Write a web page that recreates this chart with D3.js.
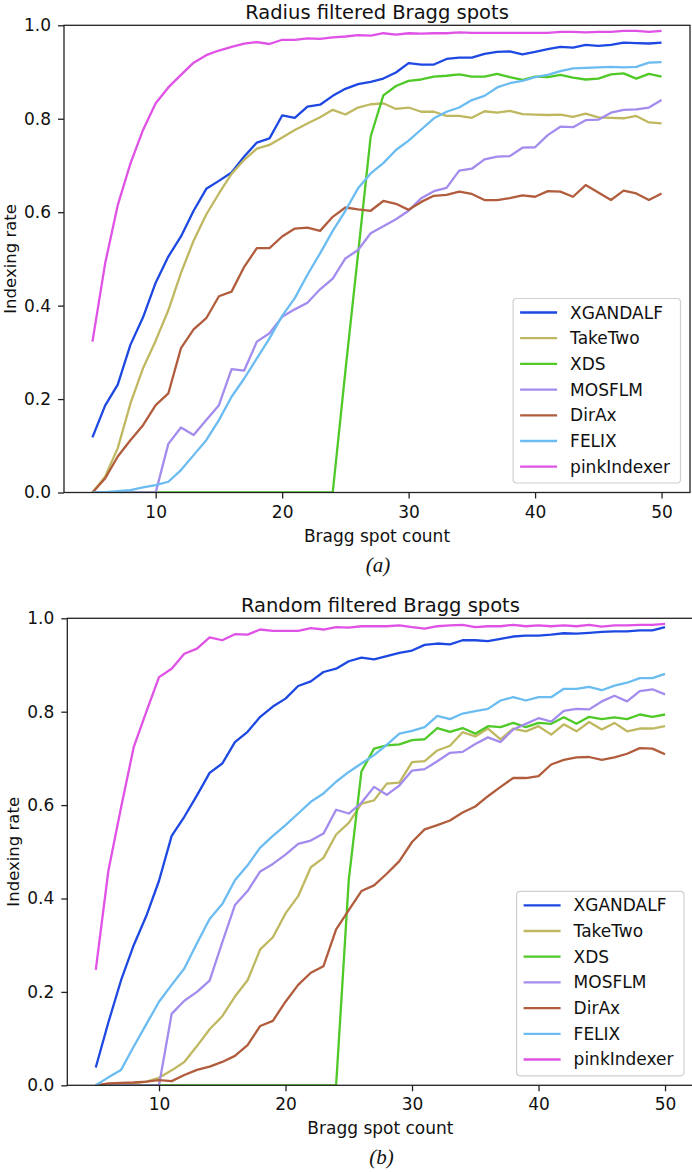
<!DOCTYPE html>
<html>
<head>
<meta charset="utf-8">
<script src="https://cdn.jsdelivr.net/npm/d3@7"></script>
<style>
body { margin: 0; background: #fff; }
svg text { font-family: "DejaVu Sans", sans-serif; fill: #111; }
.domain, .tick line { stroke: #222; }
</style>
</head>
<body>
<svg id="fig" width="692" height="1172"></svg>
<script>
// spot counts (x categories)
var spotCounts = [5,6,7,8,9,10,11,12,13,14,15,16,17,18,19,20,21,22,23,24,25,26,27,28,29,30,31,32,33,34,35,36,37,38,39,40,41,42,43,44,45,46,47,48,49,50];
var xTicks = [10, 20, 30, 40, 50];
var yTicks = [0.0, 0.2, 0.4, 0.6, 0.8, 1.0];
var names = ["XGANDALF", "TakeTwo", "XDS", "MOSFLM", "DirAx", "FELIX", "pinkIndexer"];
var colors = ["#1d48e2", "#bfb860", "#4fc927", "#a38ced", "#b15d3d", "#6bbcf1", "#e052e6"];

// (a) radius filtered
var xgandalfA = [0.118,0.186,0.231,0.316,0.375,0.449,0.505,0.548,0.603,0.650,0.667,0.685,0.719,0.749,0.758,0.807,0.802,0.826,0.830,0.849,0.864,0.874,0.879,0.886,0.899,0.919,0.916,0.916,0.928,0.931,0.931,0.939,0.943,0.944,0.938,0.943,0.949,0.954,0.952,0.958,0.956,0.958,0.963,0.962,0.961,0.963];
var takeTwoA = [0,0.034,0.095,0.19,0.266,0.325,0.39,0.47,0.539,0.595,0.64,0.682,0.712,0.736,0.744,0.76,0.776,0.79,0.803,0.819,0.809,0.824,0.831,0.833,0.821,0.824,0.815,0.815,0.806,0.806,0.802,0.816,0.813,0.817,0.810,0.809,0.808,0.809,0.804,0.811,0.803,0.802,0.801,0.806,0.792,0.790];
var xdsA = [0,0,0,0,0,0,0,0,0,0,0,0,0,0,0,0,0,0,0,0,0.26,0.51,0.762,0.85,0.870,0.881,0.884,0.890,0.892,0.895,0.890,0.890,0.896,0.889,0.883,0.890,0.889,0.894,0.888,0.884,0.886,0.895,0.897,0.886,0.896,0.890];
var mosflmA = [0,0,0,0,0,0,0.104,0.139,0.123,0.155,0.187,0.264,0.261,0.323,0.341,0.376,0.392,0.406,0.435,0.458,0.501,0.519,0.555,0.570,0.585,0.603,0.630,0.645,0.652,0.689,0.693,0.713,0.719,0.720,0.738,0.739,0.765,0.783,0.782,0.797,0.798,0.813,0.819,0.820,0.824,0.840];
var dirAxA = [0,0.03,0.077,0.112,0.144,0.187,0.212,0.309,0.349,0.373,0.42,0.43,0.483,0.523,0.523,0.548,0.565,0.567,0.560,0.590,0.610,0.606,0.603,0.624,0.618,0.605,0.622,0.635,0.637,0.644,0.639,0.626,0.626,0.630,0.636,0.633,0.645,0.644,0.633,0.658,0.642,0.626,0.646,0.640,0.626,0.640];
var felixA = [0,0.001,0.003,0.005,0.011,0.016,0.023,0.048,0.08,0.112,0.155,0.205,0.244,0.287,0.33,0.378,0.416,0.466,0.512,0.560,0.603,0.651,0.683,0.705,0.733,0.753,0.777,0.801,0.815,0.824,0.840,0.849,0.867,0.876,0.881,0.889,0.894,0.902,0.908,0.909,0.910,0.911,0.910,0.911,0.920,0.921];
var pinkA = [0.323,0.49,0.615,0.704,0.776,0.833,0.867,0.894,0.92,0.936,0.946,0.954,0.961,0.964,0.960,0.969,0.969,0.972,0.971,0.974,0.976,0.979,0.978,0.983,0.980,0.983,0.982,0.983,0.983,0.985,0.984,0.984,0.984,0.984,0.984,0.984,0.984,0.986,0.986,0.985,0.986,0.986,0.988,0.988,0.986,0.988];

// (b) random filtered
var xgandalfB = [0.038,0.135,0.225,0.30,0.363,0.438,0.534,0.575,0.621,0.669,0.689,0.735,0.757,0.789,0.811,0.828,0.855,0.865,0.885,0.892,0.908,0.916,0.912,0.919,0.926,0.931,0.943,0.946,0.944,0.953,0.953,0.951,0.956,0.961,0.963,0.963,0.965,0.968,0.967,0.969,0.971,0.972,0.972,0.974,0.974,0.981];
var takeTwoB = [0,0.002,0.003,0.004,0.008,0.016,0.032,0.05,0.084,0.12,0.148,0.19,0.225,0.291,0.317,0.368,0.405,0.467,0.487,0.537,0.562,0.603,0.610,0.646,0.648,0.692,0.694,0.717,0.727,0.756,0.747,0.764,0.741,0.764,0.758,0.769,0.751,0.773,0.758,0.778,0.762,0.776,0.758,0.764,0.764,0.769];
var xdsB = [0,0,0,0,0,0,0,0,0,0,0,0,0,0,0,0,0,0,0,0,0.44,0.672,0.721,0.728,0.730,0.739,0.741,0.765,0.757,0.765,0.753,0.769,0.767,0.776,0.767,0.776,0.774,0.788,0.774,0.789,0.784,0.788,0.784,0.794,0.789,0.794];
var mosflmB = [0,0,0,0,0,0,0.153,0.181,0.2,0.224,0.306,0.386,0.416,0.458,0.474,0.494,0.517,0.524,0.539,0.590,0.582,0.605,0.639,0.622,0.642,0.674,0.677,0.694,0.712,0.714,0.731,0.745,0.735,0.762,0.774,0.786,0.779,0.802,0.806,0.805,0.822,0.834,0.822,0.844,0.848,0.837];
var dirAxB = [0,0.004,0.005,0.006,0.008,0.011,0.009,0.022,0.033,0.04,0.05,0.063,0.086,0.127,0.138,0.179,0.215,0.241,0.255,0.334,0.375,0.416,0.428,0.453,0.480,0.521,0.548,0.557,0.567,0.584,0.597,0.619,0.639,0.658,0.658,0.662,0.687,0.697,0.702,0.703,0.697,0.702,0.710,0.722,0.721,0.709];
var felixB = [0,0.017,0.033,0.083,0.131,0.179,0.215,0.25,0.304,0.356,0.388,0.439,0.471,0.509,0.534,0.557,0.582,0.607,0.625,0.650,0.671,0.689,0.707,0.729,0.753,0.759,0.767,0.791,0.784,0.796,0.801,0.806,0.824,0.831,0.824,0.831,0.831,0.849,0.849,0.853,0.846,0.856,0.862,0.872,0.872,0.881];
var pinkB = [0.247,0.46,0.595,0.724,0.8,0.874,0.892,0.924,0.935,0.959,0.953,0.966,0.965,0.976,0.973,0.973,0.973,0.979,0.976,0.981,0.980,0.983,0.983,0.983,0.985,0.981,0.978,0.983,0.985,0.986,0.981,0.983,0.983,0.986,0.983,0.985,0.983,0.985,0.983,0.986,0.982,0.985,0.985,0.986,0.986,0.988];

var svg = d3.select("#fig");

function drawPanel(id, title, caption, series, left, top, width, height) {
	var g = svg.append("g").attr("id", id);
	var x = d3.scaleLinear().domain([2.75, 52.25]).range([left, left + width]);
	var y = d3.scaleLinear().domain([0, 1]).range([top + height, top]);

	g.append("clipPath").attr("id", id + "_clip")
		.append("rect")
		.attr("x", left).attr("y", top)
		.attr("width", width).attr("height", height);

	var line = d3.line()
		.x(function(d, i) { return x(spotCounts[i]); })
		.y(function(d) { return y(d); });

	var lines = g.append("g").attr("clip-path", "url(#" + id + "_clip)");
	series.forEach(function(s, k) {
		lines.append("path")
			.attr("d", line(s))
			.attr("fill", "none")
			.attr("stroke", colors[k])
			.attr("stroke-width", 2.3)
			.attr("stroke-linejoin", "round");
	});

	// frame
	g.append("rect")
		.attr("x", left).attr("y", top)
		.attr("width", width).attr("height", height)
		.attr("fill", "none")
		.attr("stroke", "#222")
		.attr("stroke-width", 1.3);

	var xAxis = g.append("g")
		.attr("transform", "translate(0," + (top + height) + ")")
		.call(d3.axisBottom(x).tickValues(xTicks).tickSize(6).tickPadding(7).tickFormat(d3.format("d")));
	var yAxis = g.append("g")
		.attr("transform", "translate(" + left + ",0)")
		.call(d3.axisLeft(y).tickValues(yTicks).tickSize(6).tickPadding(7).tickFormat(d3.format(".1f")));
	[xAxis, yAxis].forEach(function(a) {
		a.select(".domain").remove();
		a.selectAll(".tick line").attr("stroke-width", 1.3);
		a.selectAll("text").attr("font-size", 17).attr("font-family", "DejaVu Sans").attr("fill", "#111");
	});

	g.append("text")
		.attr("x", left + width / 2).attr("y", top - 6.8)
		.attr("text-anchor", "middle")
		.attr("font-size", 19.5)
		.text(title);

	g.append("text")
		.attr("x", left + width / 2).attr("y", top + height + 49)
		.attr("text-anchor", "middle")
		.attr("font-size", 17)
		.text("Bragg spot count");

	g.append("text")
		.attr("transform", "translate(" + (left - 48.5) + "," + (top + height / 2) + ") rotate(-90)")
		.attr("text-anchor", "middle")
		.attr("font-size", 16.5)
		.text("Indexing rate");

	g.append("text")
		.attr("x", left + width / 2 + 1).attr("y", top + height + 79)
		.attr("text-anchor", "middle")
		.attr("font-size", 21)
		.style("font-family", "'Liberation Serif', serif")
		.style("font-style", "italic")
		.text(caption);

	// legend
	var lw = 167.4, lh = 184.5;
	var lx = left + width - 9.5 - lw, ly = top + height - 9.5 - lh;
	var leg = g.append("g").attr("transform", "translate(" + lx + "," + ly + ")");
	leg.append("rect")
		.attr("width", lw).attr("height", lh)
		.attr("rx", 3.5)
		.attr("fill", "#fff").attr("fill-opacity", 0.8)
		.attr("stroke", "#d0d0d0").attr("stroke-width", 1.2);
	names.forEach(function(n, k) {
		var ry = 14 + k * 25.7;
		leg.append("line")
			.attr("x1", 7).attr("x2", 44)
			.attr("y1", ry).attr("y2", ry)
			.attr("stroke", colors[k])
			.attr("stroke-width", 2.3);
		leg.append("text")
			.attr("x", 57).attr("y", ry + 6)
			.attr("font-size", 17)
			.text(n);
	});
}

drawPanel("pa", "Radius filtered Bragg spots", "(a)",
	[xgandalfA, takeTwoA, xdsA, mosflmA, dirAxA, felixA, pinkA], 64, 25.3, 626, 467.2);
drawPanel("pb", "Random filtered Bragg spots", "(b)",
	[xgandalfB, takeTwoB, xdsB, mosflmB, dirAxB, felixB, pinkB], 67.3, 618.3, 626.2, 467);
</script>
</body>
</html>
